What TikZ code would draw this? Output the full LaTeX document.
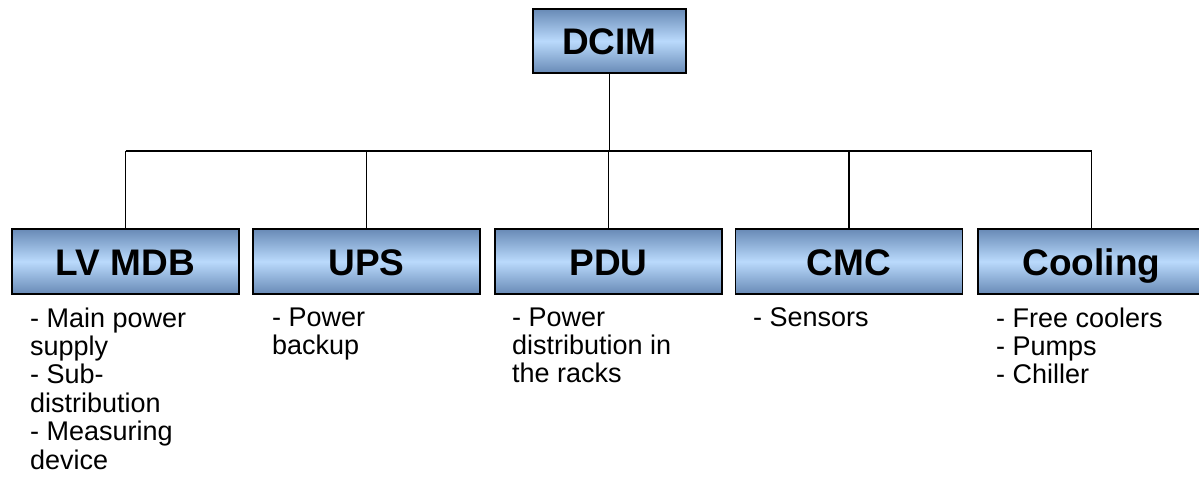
\documentclass[tikz,border=0pt]{standalone}
\usepackage{fontspec}
\setmainfont{Liberation Sans}
\definecolor{boxdark}{RGB}{104,138,182}
\definecolor{boxlight}{RGB}{186,218,252}
\begin{document}
\begin{tikzpicture}[x=1pt,y=-1pt,
  boxnode/.style={draw=black, line width=1.6pt, top color=boxdark, bottom color=boxdark, middle color=boxlight,
    minimum width=227pt, minimum height=65pt, inner sep=0pt, text height=27pt, text depth=0pt,
    font=\bfseries\fontsize{37}{40}\selectfont},
  desc/.style={anchor=north west, align=left, inner sep=0pt, font=\fontsize{27}{28.4}\selectfont},
  conn/.style={draw=black, line width=1.3pt}]
\clip (0,0) rectangle (1199,490);
\fill[white] (0,0) rectangle (1199,490);
\node[boxnode, minimum width=153pt, minimum height=64pt] (dcim) at (609.5,41) {DCIM};
\node[boxnode] (lv) at (125.5,261.5) {LV MDB};
\node[boxnode] (ups) at (366.5,261.5) {UPS};
\node[boxnode] (pdu) at (608.5,261.5) {PDU};
\node[boxnode] (cmc) at (849,261.5) {CMC};
\node[boxnode] (cool) at (1091.5,261.5) {Cooling};
\coordinate (busl) at (125.5,151);
\coordinate (busr) at (1091.5,151);
\draw[conn, line width=1.8pt] (dcim.south) -- (dcim.south |- busl);
\draw[conn] (busl) -- (busr);
\foreach \n in {lv,ups,pdu,cmc,cool}{
  \draw[conn] (\n.north) -- (\n.north |- busl);
}
\node[desc] (lvd) at (30,307.3) {- Main power\\supply\\- Sub-\\distribution\\- Measuring\\device};
\node[desc] (upsd) at (272,307.3) {- Power\\backup};
\node[desc] (pdud) at (512,307.3) {- Power\\distribution in\\the racks};
\node[desc] (cmcd) at (753,307.3) {- Sensors};
\node[desc] (coold) at (996,307.3) {- Free coolers\\- Pumps\\- Chiller};
\end{tikzpicture}
\end{document}
